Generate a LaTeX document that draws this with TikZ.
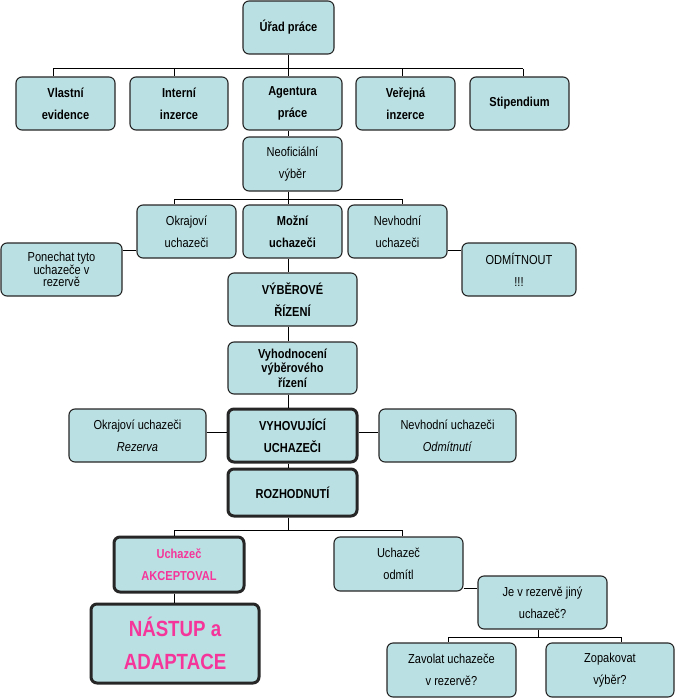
\documentclass[tikz,border=0pt]{standalone}
\usepackage{fontspec}
\setmainfont{Liberation Sans}[FakeStretch=0.85]
\definecolor{boxfill}{HTML}{BBE0E3}
\definecolor{pinktext}{HTML}{F5359A}
\begin{document}
\begin{tikzpicture}[x=1pt,y=-1pt,
  box/.style={draw=black!85, line width=1.1pt, fill=boxfill, rounded corners=6pt,
    align=center, inner sep=0pt, font=\fontsize{13}{22}\selectfont},
  heavybox/.style={box, line width=3pt},
  con/.style={draw=black, line width=1pt}]
\useasboundingbox (0,0) rectangle (675,698);
% connectors first (behind boxes)
\coordinate (h1l) at (53,69);
\coordinate (h1a) at (174,69);
\coordinate (h1c) at (288,69);
\coordinate (h1d) at (402,69);
\coordinate (h1r) at (523,69);
\coordinate (h2l) at (174,199);
\coordinate (h2c) at (288,199);
\coordinate (h2r) at (402,199);
\coordinate (h3l) at (174,530);
\coordinate (h3c) at (288,530);
\coordinate (h3r) at (402,530);
\coordinate (h4l) at (448,637);
\coordinate (h4c) at (538,637);
\coordinate (h4r) at (621,637);

% nodes
\node[box, minimum width=91pt, minimum height=53pt, font=\bfseries\fontsize{13}{22}\selectfont] (urad) at (288.5,27.5) {Úřad práce};
\node[box, minimum width=99pt, minimum height=53pt, font=\bfseries\fontsize{13}{22}\selectfont] (vlastni) at (65.5,103.5) {Vlastní\\evidence};
\node[box, minimum width=98pt, minimum height=53pt, font=\bfseries\fontsize{13}{22}\selectfont] (interni) at (179,103.5) {Interní\\inzerce};
\node[box, minimum width=99pt, minimum height=53pt, font=\bfseries\fontsize{13}{22}\selectfont] (agentura) at (292.5,103.5) {Agentura\\práce};
\node[box, minimum width=99pt, minimum height=53pt, font=\bfseries\fontsize{13}{22}\selectfont] (verejna) at (405.5,103.5) {Veřejná\\inzerce};
\node[box, minimum width=99pt, minimum height=53pt, font=\bfseries\fontsize{13}{22}\selectfont] (stip) at (519.5,103.5) {Stipendium};
\node[box, minimum width=99pt, minimum height=54pt] (neo) at (292.5,164) {Neoficiální\\výběr};
\node[box, minimum width=99pt, minimum height=53pt] (okraj) at (186.5,231.5) {Okrajoví\\uchazeči};
\node[box, minimum width=99pt, minimum height=53pt, font=\bfseries\fontsize{13}{22}\selectfont] (mozni) at (292.5,231.5) {Možní\\uchazeči};
\node[box, minimum width=99pt, minimum height=53pt] (nevh) at (397.5,231.5) {Nevhodní\\uchazeči};
\node[box, minimum width=121pt, minimum height=53pt, font=\fontsize{13}{12.5}\selectfont] (ponechat) at (61.5,269.5) {Ponechat tyto\\uchazeče v\\rezervě};
\node[box, minimum width=114pt, minimum height=53pt] (odmit) at (519,269.5) {ODMÍTNOUT\\!!!};
\node[box, minimum width=129pt, minimum height=53pt, font=\bfseries\fontsize{13}{22}\selectfont] (vyber) at (292.5,299.5) {VÝBĚROVÉ\\ŘÍZENÍ};
\node[box, minimum width=129pt, minimum height=52pt, font=\bfseries\fontsize{13}{14.5}\selectfont] (vyhod) at (292.5,368) {Vyhodnocení\\výběrového\\řízení};
\node[heavybox, minimum width=129pt, minimum height=53pt, font=\bfseries\fontsize{13}{22}\selectfont] (vyhov) at (292.5,435.5) {VYHOVUJÍCÍ\\UCHAZEČI};
\node[box, minimum width=137pt, minimum height=53pt] (okraj2) at (137.5,435.5) {Okrajoví uchazeči\\\textit{Rezerva}};
\node[box, minimum width=137pt, minimum height=53pt] (nevh2) at (447.5,435.5) {Nevhodní uchazeči\\\textit{Odmítnutí}};
\node[heavybox, minimum width=129pt, minimum height=47pt, font=\bfseries\fontsize{13}{22}\selectfont] (rozh) at (292.5,492.5) {ROZHODNUTÍ};
\node[heavybox, minimum width=130pt, minimum height=55pt, text=pinktext, font=\bfseries\fontsize{13}{22}\selectfont] (akcept) at (179,564.5) {Uchazeč\\AKCEPTOVAL};
\node[box, minimum width=129pt, minimum height=54pt] (odmitl) at (398.5,564) {Uchazeč\\odmítl};
\node[heavybox, minimum width=168pt, minimum height=79pt, text=pinktext, font=\bfseries\fontsize{22}{33}\selectfont] (nastup) at (175,643.5) {NÁSTUP a\\ADAPTACE};
\node[box, minimum width=129pt, minimum height=53pt] (je) at (542.5,602.5) {Je v rezervě jiný\\uchazeč?};
\node[box, minimum width=129pt, minimum height=54pt] (zavolat) at (451.5,670) {Zavolat uchazeče\\v rezervě?};
\node[box, minimum width=128pt, minimum height=54pt] (zopak) at (610,670) {Zopakovat\\výběr?};

% connectors
\begin{scope}[on background layer/.style={}]
\draw[con] (urad.south -| h1c) -- (h1c);
\draw[con] (h1l) -- (h1r);
\draw[con] (h1l) -- (vlastni.north -| h1l);
\draw[con] (h1a) -- (interni.north -| h1a);
\draw[con] (h1c) -- (agentura.north -| h1c);
\draw[con] (h1d) -- (verejna.north -| h1d);
\draw[con] (h1r) -- (stip.north -| h1r);
\draw[con] (agentura.south -| h1c) -- (neo.north -| h1c);
\draw[con] (neo.south -| h2c) -- (h2c);
\draw[con] (h2l) -- (h2r);
\draw[con] (h2l) -- (okraj.north -| h2l);
\draw[con] (h2c) -- (mozni.north -| h2c);
\draw[con] (h2r) -- (nevh.north -| h2r);
\draw[con] (ponechat.east |- 0,250) -- (okraj.west |- 0,250);
\draw[con] (nevh.east |- 0,250) -- (odmit.west |- 0,250);
\draw[con] (mozni.south -| h2c) -- (vyber.north -| h2c);
\draw[con] (vyber.south -| h2c) -- (vyhod.north -| h2c);
\draw[con] (vyhod.south -| h2c) -- (vyhov.north -| h2c);
\draw[con] (okraj2.east |- 0,432) -- (vyhov.west |- 0,432);
\draw[con] (vyhov.east |- 0,432) -- (nevh2.west |- 0,432);
\draw[con] (vyhov.south -| h3c) -- (rozh.north -| h3c);
\draw[con] (rozh.south -| h3c) -- (h3c);
\draw[con] (h3l) -- (h3r);
\draw[con] (h3l) -- (akcept.north -| h3l);
\draw[con] (h3r) -- (odmitl.north -| h3r);
\draw[con] (akcept.south -| h3l) -- (nastup.north -| h3l);
\draw[con] (odmitl.east |- 0,588) -- (je.west |- 0,588);
\draw[con] (je.south -| h4c) -- (h4c);
\draw[con] (h4l) -- (h4r);
\draw[con] (h4l) -- (zavolat.north -| h4l);
\draw[con] (h4r) -- (zopak.north -| h4r);
\end{scope}
\end{tikzpicture}
\end{document}
